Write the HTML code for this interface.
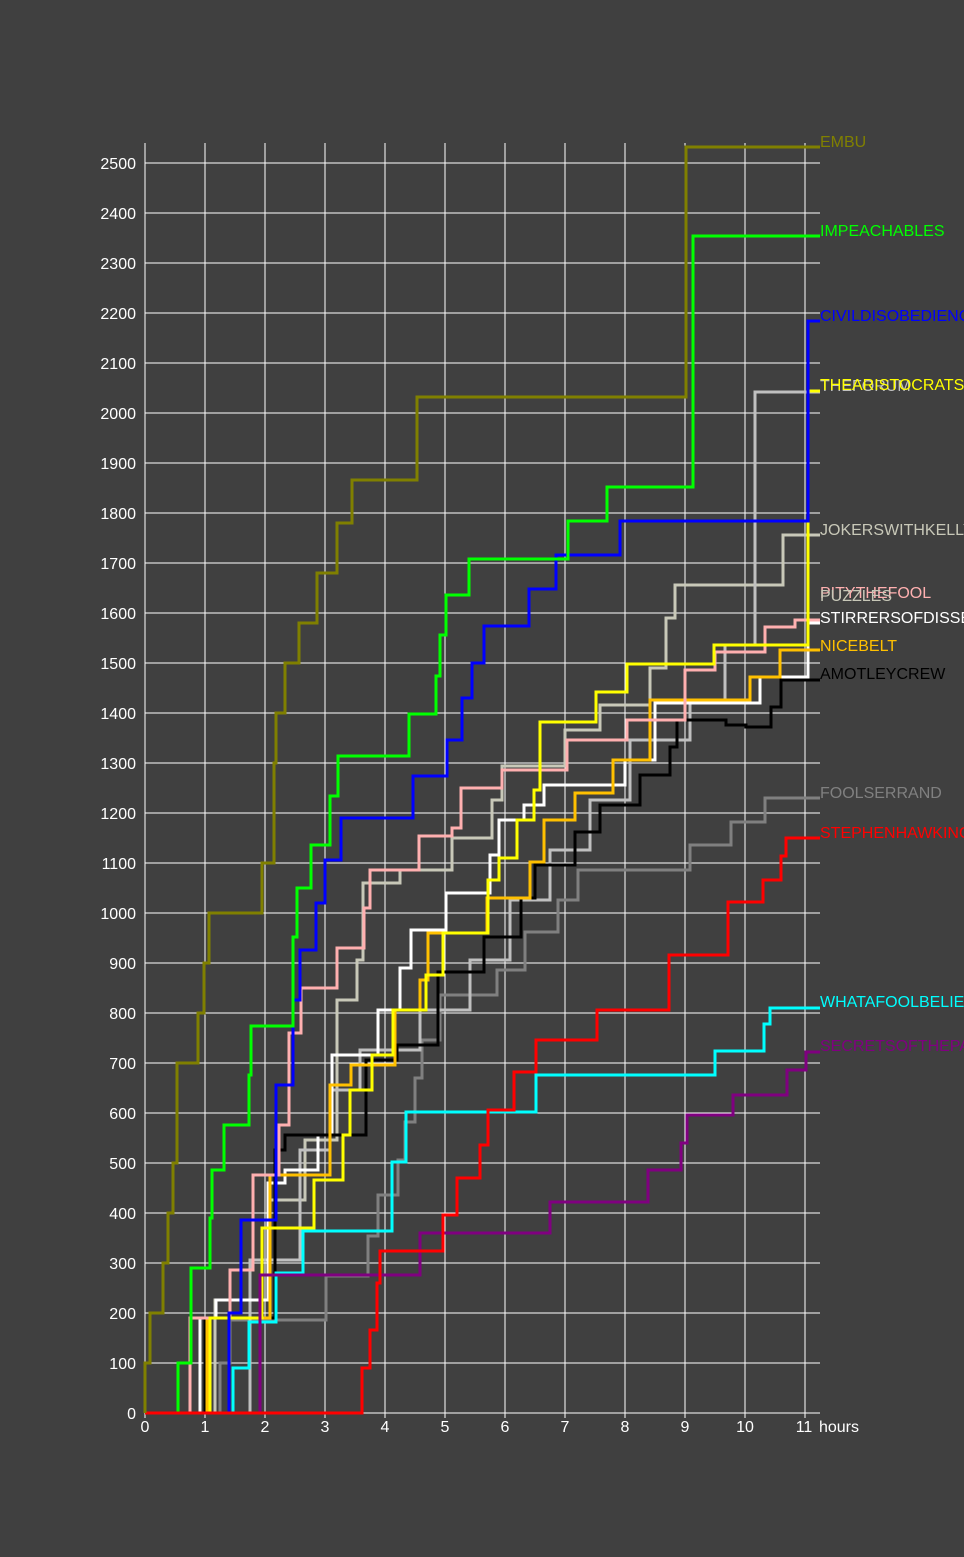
<!DOCTYPE html>
<html><head><meta charset="utf-8"><style>
html,body{margin:0;padding:0;background:#404040;}
svg{display:block;}
text{font-family:"Liberation Sans",sans-serif;font-size:16px;}
</style></head><body>
<svg width="964" height="1557" xmlns="http://www.w3.org/2000/svg">
<rect width="964" height="1557" fill="#404040"/>
<g stroke="#ffffff" stroke-width="1">
<line x1="145" y1="1413" x2="820" y2="1413"/><line x1="145" y1="1363" x2="820" y2="1363"/><line x1="145" y1="1313" x2="820" y2="1313"/><line x1="145" y1="1263" x2="820" y2="1263"/><line x1="145" y1="1213" x2="820" y2="1213"/><line x1="145" y1="1163" x2="820" y2="1163"/><line x1="145" y1="1113" x2="820" y2="1113"/><line x1="145" y1="1063" x2="820" y2="1063"/><line x1="145" y1="1013" x2="820" y2="1013"/><line x1="145" y1="963" x2="820" y2="963"/><line x1="145" y1="913" x2="820" y2="913"/><line x1="145" y1="863" x2="820" y2="863"/><line x1="145" y1="813" x2="820" y2="813"/><line x1="145" y1="763" x2="820" y2="763"/><line x1="145" y1="713" x2="820" y2="713"/><line x1="145" y1="663" x2="820" y2="663"/><line x1="145" y1="613" x2="820" y2="613"/><line x1="145" y1="563" x2="820" y2="563"/><line x1="145" y1="513" x2="820" y2="513"/><line x1="145" y1="463" x2="820" y2="463"/><line x1="145" y1="413" x2="820" y2="413"/><line x1="145" y1="363" x2="820" y2="363"/><line x1="145" y1="313" x2="820" y2="313"/><line x1="145" y1="263" x2="820" y2="263"/><line x1="145" y1="213" x2="820" y2="213"/><line x1="145" y1="163" x2="820" y2="163"/>
<line x1="145" y1="143" x2="145" y2="1418"/><line x1="205" y1="143" x2="205" y2="1418"/><line x1="265" y1="143" x2="265" y2="1418"/><line x1="325" y1="143" x2="325" y2="1418"/><line x1="385" y1="143" x2="385" y2="1418"/><line x1="445" y1="143" x2="445" y2="1418"/><line x1="505" y1="143" x2="505" y2="1418"/><line x1="565" y1="143" x2="565" y2="1418"/><line x1="625" y1="143" x2="625" y2="1418"/><line x1="685" y1="143" x2="685" y2="1418"/><line x1="745" y1="143" x2="745" y2="1418"/><line x1="805" y1="143" x2="805" y2="1418"/>
</g>
<g fill="#ffffff" text-anchor="end">
<text x="136" y="1419">0</text><text x="136" y="1369">100</text><text x="136" y="1319">200</text><text x="136" y="1269">300</text><text x="136" y="1219">400</text><text x="136" y="1169">500</text><text x="136" y="1119">600</text><text x="136" y="1069">700</text><text x="136" y="1019">800</text><text x="136" y="969">900</text><text x="136" y="919">1000</text><text x="136" y="869">1100</text><text x="136" y="819">1200</text><text x="136" y="769">1300</text><text x="136" y="719">1400</text><text x="136" y="669">1500</text><text x="136" y="619">1600</text><text x="136" y="569">1700</text><text x="136" y="519">1800</text><text x="136" y="469">1900</text><text x="136" y="419">2000</text><text x="136" y="369">2100</text><text x="136" y="319">2200</text><text x="136" y="269">2300</text><text x="136" y="219">2400</text><text x="136" y="169">2500</text>
</g>
<g fill="#ffffff" text-anchor="middle">
<text x="145" y="1432">0</text><text x="205" y="1432">1</text><text x="265" y="1432">2</text><text x="325" y="1432">3</text><text x="385" y="1432">4</text><text x="445" y="1432">5</text><text x="505" y="1432">6</text><text x="565" y="1432">7</text><text x="625" y="1432">8</text><text x="685" y="1432">9</text><text x="745" y="1432">10</text><text x="804" y="1432">11</text><text x="839" y="1432">hours</text>
</g>
<g fill="none" stroke-width="3">
<polyline stroke="#808080" points="145,1413 220,1413 220,1363 230,1363 230,1320 326,1320 326,1276 368,1276 368,1236 378,1236 378,1195 398,1195 398,1160 405,1160 405,1122 415,1122 415,1078 422,1078 422,1040 440,1040 440,995 497,995 497,970 525,970 525,932 558,932 558,900 578,900 578,870 690,870 690,845 731,845 731,822 765,822 765,798 820,798"/>
<polyline stroke="#c8c8b8" points="215,1413 215,1300 270,1300 270,1200 305,1200 305,1140 337,1140 337,1000 357,1000 357,960 363,960 363,883 400,883 400,870 452,870 452,838 492,838 492,800 502,800 502,766 565,766 565,730 600,730 600,705 650,705 650,668 666,668 666,618 675,618 675,585 783,585 783,535 820,535"/>
<polyline stroke="#c0c0c0" points="250,1413 250,1260 300,1260 300,1150 330,1150 330,1090 360,1090 360,1050 420,1050 420,1010 470,1010 470,960 510,960 510,900 550,900 550,850 590,850 590,800 630,800 630,740 690,740 690,700 725,700 725,645 755,645 755,392 820,392"/>
<polyline stroke="#ffffff" points="200,1413 200,1318 216,1318 216,1300 268,1300 268,1183 285,1183 285,1170 318,1170 318,1135 332,1135 332,1055 378,1055 378,1010 400,1010 400,968 411,968 411,930 446,930 446,893 490,893 490,855 499,855 499,820 524,820 524,805 544,805 544,785 625,785 625,760 655,760 655,703 760,703 760,677 808,677 808,623 820,623"/>
<polyline stroke="#000000" points="205,1413 205,1318 275,1318 275,1150 285,1150 285,1135 366,1135 366,1060 397,1060 397,1045 438,1045 438,972 484,972 484,937 521,937 521,898 535,898 535,865 575,865 575,832 600,832 600,805 640,805 640,775 670,775 670,747 677,747 677,720 726,720 726,725 746,725 746,727 771,727 771,707 781,707 781,680 820,680"/>
<polyline stroke="#ffc000" points="207,1413 207,1318 270,1318 270,1175 330,1175 330,1085 351,1085 351,1065 395,1065 395,1010 420,1010 420,980 428,980 428,933 487,933 487,898 530,898 530,862 544,862 544,820 575,820 575,793 613,793 613,760 650,760 650,700 750,700 750,677 780,677 780,650 820,650"/>
<polyline stroke="#ffb0b0" points="190,1413 190,1318 230,1318 230,1270 253,1270 253,1175 279,1175 279,1125 289,1125 289,1033 301,1033 301,988 337,988 337,948 364,948 364,908 370,908 370,870 419,870 419,836 452,836 452,828 461,828 461,788 502,788 502,770 567,770 567,740 627,740 627,720 685,720 685,670 715,670 715,652 765,652 765,627 795,627 795,620 820,620"/>
<polyline stroke="#ffff00" points="210,1413 210,1318 262,1318 262,1228 314,1228 314,1180 343,1180 343,1135 350,1135 350,1090 372,1090 372,1055 393,1055 393,1010 426,1010 426,975 443,975 443,933 488,933 488,880 499,880 499,858 517,858 517,820 534,820 534,790 540,790 540,722 596,722 596,692 627,692 627,664 714,664 714,645 808,645 808,391 820,391"/>
<polyline stroke="#0000ff" points="229,1413 229,1313 241,1313 241,1220 276,1220 276,1085 293,1085 293,1000 300,1000 300,950 316,950 316,903 325,903 325,860 341,860 341,818 413,818 413,776 447,776 447,740 462,740 462,698 472,698 472,663 484,663 484,626 529,626 529,589 556,589 556,555 620,555 620,521 808,521 808,321 820,321"/>
<polyline stroke="#00ff00" points="145,1413 178,1413 178,1363 191,1363 191,1268 210,1268 210,1218 212,1218 212,1170 224,1170 224,1125 249,1125 249,1075 251,1075 251,1026 293,1026 293,937 297,937 297,888 311,888 311,845 330,845 330,796 338,796 338,756 409,756 409,714 436,714 436,676 440,676 440,635 446,635 446,595 469,595 469,559 568,559 568,521 607,521 607,487 693,487 693,236 820,236"/>
<polyline stroke="#00ffff" points="145,1413 233,1413 233,1368 249,1368 249,1322 276,1322 276,1273 303,1273 303,1231 392,1231 392,1162 406,1162 406,1112 536,1112 536,1075 715,1075 715,1051 764,1051 764,1024 770,1024 770,1008 820,1008"/>
<polyline stroke="#800080" points="260,1413 260,1275 420,1275 420,1233 550,1233 550,1202 648,1202 648,1170 681,1170 681,1143 687,1143 687,1115 733,1115 733,1095 787,1095 787,1070 806,1070 806,1052 820,1052"/>
<polyline stroke="#ff0000" points="145,1413 362,1413 362,1368 370,1368 370,1330 377,1330 377,1283 380,1283 380,1251 443,1251 443,1215 457,1215 457,1178 480,1178 480,1145 488,1145 488,1110 514,1110 514,1072 536,1072 536,1040 597,1040 597,1010 669,1010 669,955 728,955 728,902 763,902 763,880 781,880 781,856 786,856 786,838 820,838"/>
<polyline stroke="#808000" points="145,1413 145,1363 150,1363 150,1313 163,1313 163,1263 168,1263 168,1213 173,1213 173,1163 177,1163 177,1063 198,1063 198,1013 204,1013 204,963 209,963 209,913 262,913 262,863 274,863 274,763 276,763 276,713 285,713 285,663 299,663 299,623 317,623 317,573 337,573 337,523 352,523 352,480 417,480 417,397 686,397 686,147 820,147"/>
</g>
<g>
<text x="820" y="147" fill="#808000">EMBU</text>
<text x="820" y="236" fill="#00ff00">IMPEACHABLES</text>
<text x="820" y="321" fill="#0000ff">CIVILDISOBEDIENCE</text>
<text x="820" y="391" fill="#c0c0c0">THEFORUM</text>
<text x="820" y="390" fill="#ffff00">THEARISTOCRATS</text>
<text x="820" y="535" fill="#c8c8b8">JOKERSWITHKELLY</text>
<text x="820" y="598" fill="#ffb0b0">PITYTHEFOOL</text>
<text x="820" y="601" fill="#c8c8b8">PUZZLES</text>
<text x="820" y="623" fill="#ffffff">STIRRERSOFDISSENT</text>
<text x="820" y="651" fill="#ffc000">NICEBELT</text>
<text x="820" y="679" fill="#000000">AMOTLEYCREW</text>
<text x="820" y="798" fill="#808080">FOOLSERRAND</text>
<text x="820" y="838" fill="#ff0000">STEPHENHAWKING</text>
<text x="820" y="1007" fill="#00ffff">WHATAFOOLBELIEVES</text>
<text x="820" y="1051" fill="#800080">SECRETSOFTHEPAST</text>
</g>
</svg>
</body></html>
